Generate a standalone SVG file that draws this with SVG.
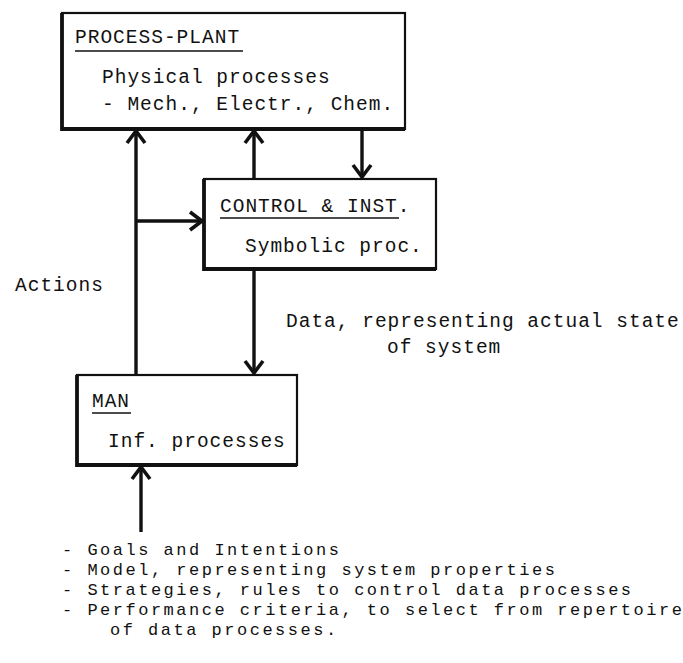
<svg xmlns="http://www.w3.org/2000/svg" width="683" height="663" viewBox="0 0 683 663">
  <style>
    .bg { fill: #ffffff; }
    .box { fill: #ffffff; stroke: #111; stroke-width: 2.2; }
    .edge { fill: none; stroke: #111; stroke-width: 3.8; stroke-linejoin: miter; }
    .t { font-family: "Liberation Mono", "DejaVu Sans Mono", monospace; font-size: 19.5px; letter-spacing: 1.0px; fill: #111; }
    .li { font-family: "Liberation Mono", "DejaVu Sans Mono", monospace; font-size: 17px; letter-spacing: 2.5px; fill: #111; }
    .ul { stroke: #111; stroke-width: 1.6; }
    .link { fill: none; stroke: #111; stroke-width: 3.4; }
  </style>
  <defs>
    <!-- open chevron arrowhead, drawn in user units -->
    <marker id="arr" viewBox="-16 -12 20 24" markerWidth="20" markerHeight="24" refX="0" refY="0" orient="auto" markerUnits="userSpaceOnUse" overflow="visible">
      <path d="M-12,-9 L0,0 L-12,9" fill="none" stroke="#111" stroke-width="3.6" stroke-linejoin="miter"/>
    </marker>
  </defs>

  <rect class="bg" x="0" y="0" width="683" height="663"/>

  <!-- process plant -->
  <g id="process-plant">
    <rect class="box" x="62" y="13" width="343" height="116"/>
    <path class="edge" d="M62,13 L62,129 L405,129"/>
    <text class="t" x="75" y="43">PROCESS-PLANT</text>
    <line class="ul" x1="75" y1="51" x2="243" y2="51"/>
    <text class="t" x="102" y="83">Physical processes</text>
    <text class="t" x="102" y="110">- Mech., Electr., Chem.</text>
  </g>

  <!-- control and instrumentation -->
  <g id="control-inst">
    <rect class="box" x="204" y="179" width="232" height="90"/>
    <path class="edge" d="M204,179 L204,269 L436,269"/>
    <text class="t" x="220" y="212">CONTROL &amp; INST.</text>
    <line class="ul" x1="220" y1="218" x2="399" y2="218"/>
    <text class="t" x="245" y="252">Symbolic proc.</text>
  </g>

  <!-- human operator -->
  <g id="man">
    <rect class="box" x="77" y="375" width="220" height="90"/>
    <path class="edge" d="M77,375 L77,465 L297,465"/>
    <text class="t" x="92" y="407" textLength="38" lengthAdjust="spacingAndGlyphs">MAN</text>
    <line class="ul" x1="92" y1="413" x2="131" y2="413"/>
    <text class="t" x="108" y="447">Inf. processes</text>
  </g>

  <!-- connectors -->
  <g id="connectors">
    <path class="link" d="M136,375 L136,131" marker-end="url(#arr)"/>
    <path class="link" d="M136,221 L202,221" marker-end="url(#arr)"/>
    <path class="link" d="M254,179 L254,131" marker-end="url(#arr)"/>
    <path class="link" d="M362,129 L362,177" marker-end="url(#arr)"/>
    <path class="link" d="M254,269 L254,373" marker-end="url(#arr)"/>
    <path class="link" d="M141,532 L141,467" marker-end="url(#arr)"/>
  </g>

  <!-- labels -->
  <g id="labels">
    <text class="t" x="15" y="291">Actions</text>
    <text class="t" x="286" y="327">Data, representing actual state</text>
    <text class="t" x="387" y="353">of system</text>
    <text class="li" x="62" y="555">- Goals and Intentions</text>
    <text class="li" x="62" y="575">- Model, representing system properties</text>
    <text class="li" x="62" y="595">- Strategies, rules to control data processes</text>
    <text class="li" x="62" y="615">- Performance criteria, to select from repertoire</text>
    <text class="li" x="110" y="635">of data processes.</text>
  </g>
</svg>
